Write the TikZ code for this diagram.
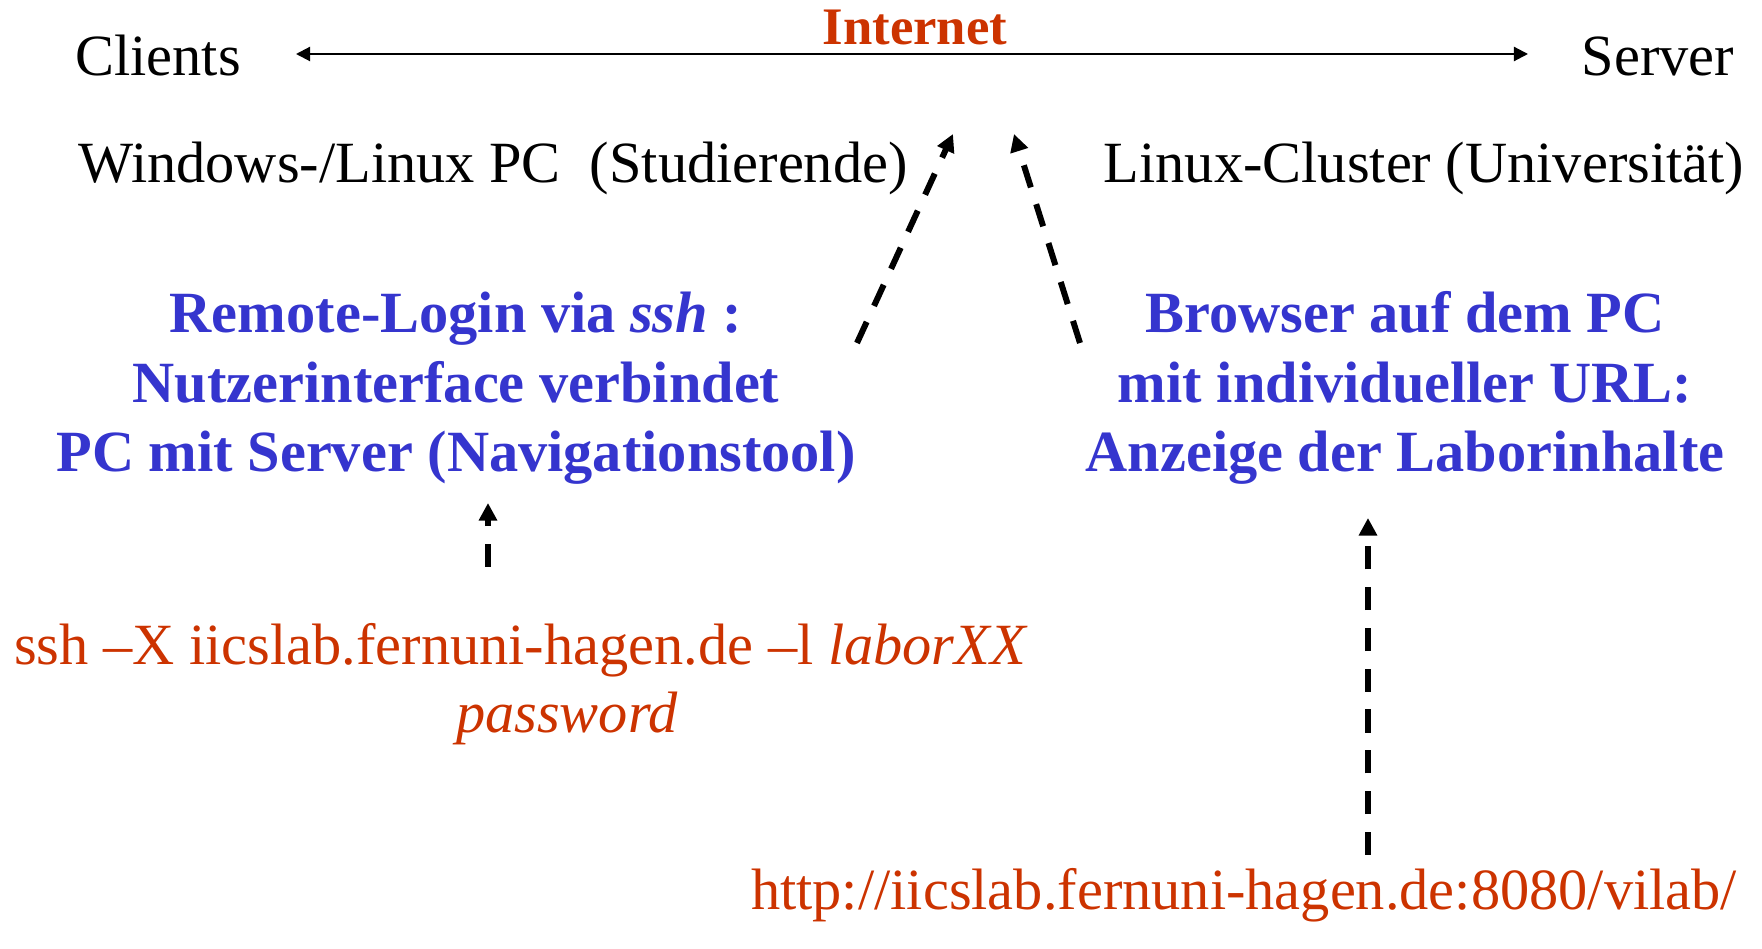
\documentclass[tikz,border=0pt]{standalone}
\usepackage{fontspec}
\setmainfont{Liberation Serif}
\usepackage{xcolor}
\definecolor{labblue}{HTML}{3535CE}
\definecolor{labred}{HTML}{CC3300}
\usetikzlibrary{arrows.meta}

\tikzset{
  plain/.style={inner sep=0pt, anchor=base, font=\fontsize{16.6}{20}\selectfont},
  infotext/.style={plain, align=center, text=labblue, font=\fontsize{16.6}{19.8}\selectfont\bfseries},
  cmdtext/.style={plain, text=labred},
  linkarrow/.style={line width=1.7pt, dash pattern=on 6.6pt off 5pt,
    -{Triangle[length=5pt,width=5pt]}}
}

\begin{document}
\begin{tikzpicture}[x=0.01cm, y=-0.01cm]

  % canvas 1762 x 949 px
  \useasboundingbox (0,0) rectangle (1762,949);

  % Top row: clients -- internet -- server
  \node[plain] (clients) at (158,76) {Clients};
  \node[plain] (server) at (1658,76) {Server};
  \node[plain, text=labred, font=\fontsize{15}{18}\selectfont\bfseries] (internet) at (915,45) {Internet};
  \coordinate (netL) at (296,54);
  \coordinate (netR) at (1528,54);
  \draw[line width=0.6pt, {Triangle[length=4pt,width=4pt]}-{Triangle[length=4pt,width=4pt]}] (netL) -- (netR);

  % Machines
  \node[plain] (pc) at (493,183) {Windows-/Linux PC\ \ (Studierende)};
  \node[plain] (cluster) at (1424,183) {Linux-Cluster (Universität)};

  % Access paths (base = last line)
  \node[infotext] (sshinfo) at (456,472) {Remote-Login via \textit{ssh} :\\Nutzerinterface verbindet\\PC mit Server (Navigationstool)};
  \node[infotext] (webinfo) at (1405,472) {Browser auf dem PC\\mit individueller URL:\\Anzeige der Laborinhalte};

  % Commands
  \node[cmdtext] (sshcmd) at (521,665) {ssh –X iicslab.fernuni-hagen.de –l \textit{laborXX}};
  \node[cmdtext] (sshpw) at (567,733) {\textit{password}};
  \node[cmdtext] (url) at (1244,910) {http://iicslab.fernuni-hagen.de:8080/vilab/};

  % Dashed connectors
  \coordinate (sshTop) at (953,134);
  \coordinate (sshBot) at (857,343);
  \coordinate (webTop) at (1014,134);
  \coordinate (webBot) at (1080,343);
  \coordinate (cmdTop) at (488,503);
  \coordinate (cmdBot) at (488,567);
  \coordinate (urlTop) at (1368,518);
  \coordinate (urlBot) at (1368,855);
  \draw[linkarrow] (sshBot) -- (sshTop);
  \draw[linkarrow] (webBot) -- (webTop);
  \draw[linkarrow] (cmdBot) -- (cmdTop);
  \draw[linkarrow] (urlBot) -- (urlTop);

\end{tikzpicture}
\end{document}
